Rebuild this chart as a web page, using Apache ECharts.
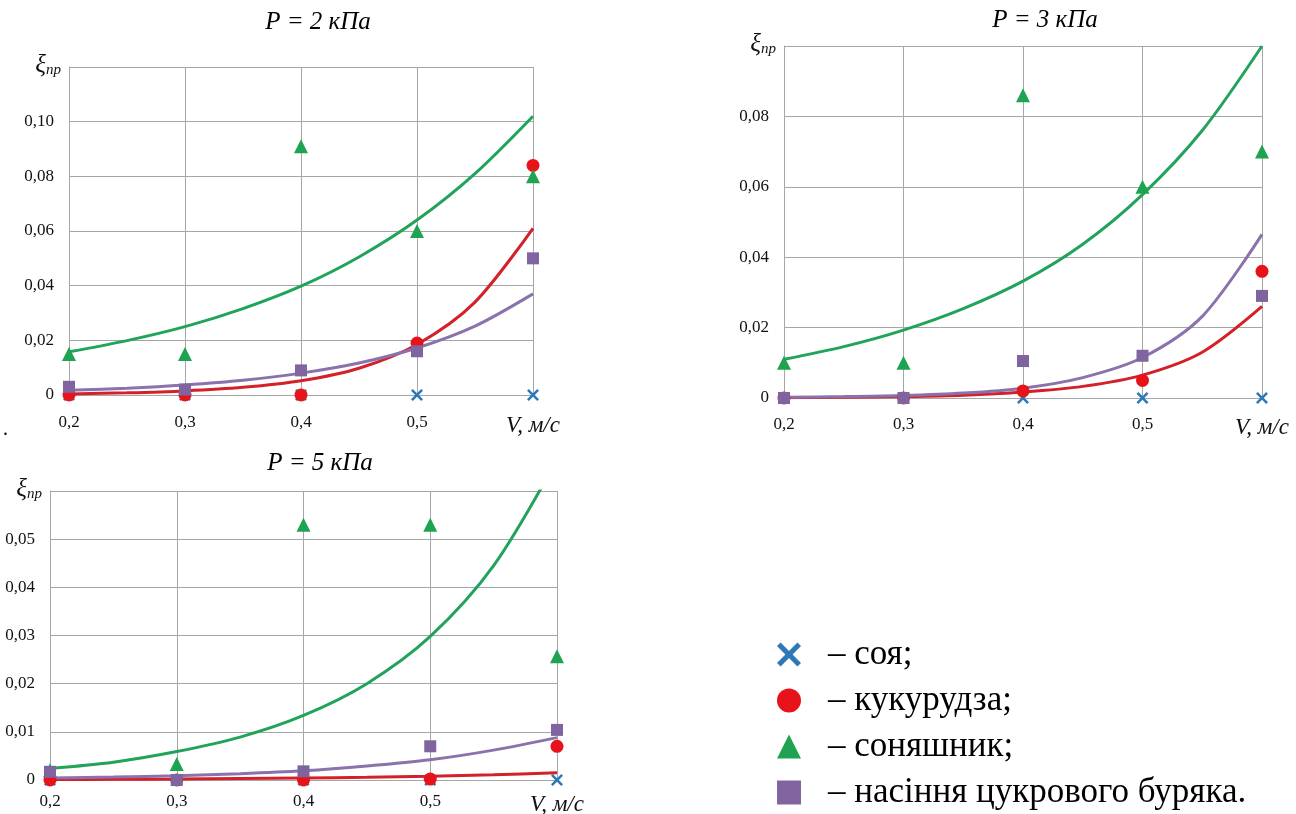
<!DOCTYPE html>
<html>
<head>
<meta charset="utf-8">
<script src="https://cdn.jsdelivr.net/npm/echarts@6/dist/echarts.min.js"></script>
<style>
html,body{margin:0;padding:0;background:#fff;}
#chart{width:1296px;height:814px;}
</style>
</head>
<body>
<div id="chart"></div>
<script>
// ---- data ----
const speeds = [0.2, 0.3, 0.4, 0.5, 0.6];
const trendX = [0.2, 0.25, 0.3, 0.35, 0.4, 0.45, 0.5, 0.55, 0.6];
const crops = ['соя', 'кукурудза', 'соняшник', 'насіння цукрового буряка'];
const legendEnds = [';', ';', ';', '.'];
const panelTitles = ['P = 2 кПа', 'P = 3 кПа', 'P = 5 кПа'];
const xAxisTitle = 'V, м/с';
const yAxisTitle = 'ξ';
const yAxisSub = 'пр';

// P = 2 kPa
const p2_soya = [0, 0, 0, 0, 0];
const p2_corn = [0, 0, 0, 0.019, 0.084];
const p2_sun = [0.015, 0.015, 0.091, 0.060, 0.080];
const p2_beet = [0.003, 0.002, 0.009, 0.016, 0.050];
const p2_cornTrend = [0.0004, 0.0008, 0.0015, 0.0028, 0.0052, 0.0098, 0.0185, 0.034, 0.061];
const p2_sunTrend = [0.0158, 0.0199, 0.025, 0.0316, 0.0398, 0.0505, 0.064, 0.081, 0.102];
const p2_beetTrend = [0.0017, 0.0025, 0.0037, 0.0054, 0.008, 0.0117, 0.0172, 0.0252, 0.037];

// P = 3 kPa
const p3_soya = [0, 0, 0, 0, 0];
const p3_corn = [0, 0, 0.002, 0.005, 0.036];
const p3_sun = [0.010, 0.010, 0.086, 0.060, 0.070];
const p3_beet = [0, 0, 0.0105, 0.012, 0.029];
const p3_cornTrend = [0.0001, 0.0002, 0.0004, 0.0008, 0.0017, 0.0033, 0.0065, 0.013, 0.026];
const p3_sunTrend = [0.011, 0.0146, 0.0193, 0.0254, 0.0332, 0.0437, 0.0578, 0.076, 0.100];
const p3_beetTrend = [0.0002, 0.0004, 0.0007, 0.0014, 0.0028, 0.0058, 0.0115, 0.0232, 0.0465];

// P = 5 kPa
const p5_soya = [0, 0, 0, 0, 0];
const p5_corn = [0, 0, 0, 0.0002, 0.007];
const p5_sun = [0.002, 0.0033, 0.053, 0.053, 0.0257];
const p5_beet = [0.0017, 0, 0.0018, 0.007, 0.0104];
const p5_cornTrend = [0.0001, 0.00015, 0.0002, 0.0003, 0.0004, 0.00055, 0.0008, 0.0011, 0.0015];
const p5_sunTrend = [0.0024, 0.0037, 0.0059, 0.0089, 0.0134, 0.020, 0.0298, 0.0445, 0.0665];
const p5_beetTrend = [0.0004, 0.0006, 0.0009, 0.0013, 0.0019, 0.0029, 0.0042, 0.0062, 0.0088];

const yMaxes = [0.12, 0.10, 0.06];
const yIntervals = [0.02, 0.02, 0.01];

// ---- styles / layout ----
const FONT = 'Liberation Serif';
const markerColors = ['#2e78b8', '#e8121a', '#1ea352', '#7f64a0'];
const lineColors = [null, '#d42028', '#22a35a', '#8a72ad'];
const symbols = [
  'path://M0,3 L3,0 L10,7 L17,0 L20,3 L13,10 L20,17 L17,20 L10,13 L3,20 L0,17 L7,10 Z',
  'circle', 'triangle', 'rect'
];
const symbolSizes = [12, 13, 14, 12];
const grids = [
  {left: 69, top: 67, width: 464, height: 328},
  {left: 784, top: 46, width: 478, height: 352},
  {left: 50, top: 491, width: 507, height: 289}
];
const titlePos = [[313, 5], [1040, 3], [315, 446]];
const xLabelMargins = [19, 18, 13];

const panels = [
  {pts: [p2_soya, p2_corn, p2_sun, p2_beet], trends: [null, p2_cornTrend, p2_sunTrend, p2_beetTrend]},
  {pts: [p3_soya, p3_corn, p3_sun, p3_beet], trends: [null, p3_cornTrend, p3_sunTrend, p3_beetTrend]},
  {pts: [p5_soya, p5_corn, p5_sun, p5_beet], trends: [null, p5_cornTrend, p5_sunTrend, p5_beetTrend]}
];

const gridColor = '#a6a6a6';
const xAxes = [], yAxes = [], series = [], titles = [];

panels.forEach((p, i) => {
  titles.push({
    text: panelTitles[i], left: titlePos[i][0], top: titlePos[i][1], textAlign: 'center',
    textStyle: {fontFamily: FONT, fontStyle: 'italic', fontWeight: 'normal', fontSize: 25, color: '#000'}
  });
  xAxes.push({
    type: 'value', gridIndex: i, min: 0.2, max: 0.6, interval: 0.1,
    axisLine: {show: true, onZero: false, lineStyle: {color: gridColor, width: 1}},
    axisTick: {show: false},
    splitLine: {show: true, lineStyle: {color: gridColor, width: 1}},
    axisLabel: {
      margin: xLabelMargins[i], fontFamily: FONT, fontSize: 17, color: '#111',
      formatter: v => Math.abs(v - 0.6) < 1e-9 ? '{v|' + xAxisTitle + '}' : v.toFixed(1).replace('.', ','),
      rich: {v: {fontFamily: FONT, fontSize: 23, fontStyle: 'italic', color: '#111'}}
    }
  });
  yAxes.push({
    type: 'value', gridIndex: i, min: 0, max: yMaxes[i], interval: yIntervals[i],
    axisLine: {show: true, lineStyle: {color: gridColor, width: 1}},
    axisTick: {show: false},
    splitLine: {show: true, lineStyle: {color: gridColor, width: 1}},
    axisLabel: {
      margin: 15, fontFamily: FONT, fontSize: 17, color: '#111', showMaxLabel: false,
      formatter: v => v === 0 ? '0' : v.toFixed(2).replace('.', ',')
    },
    name: '{a|' + yAxisTitle + '}{b|' + yAxisSub + '}',
    nameLocation: 'end', nameGap: 2,
    nameTextStyle: {
      align: 'right', verticalAlign: 'middle', padding: [0, 8, 0, 0],
      rich: {
        a: {fontFamily: FONT, fontStyle: 'italic', fontSize: 25, color: '#111'},
        b: {fontFamily: FONT, fontStyle: 'italic', fontSize: 15, color: '#111', verticalAlign: 'bottom', padding: [6, 0, 0, 0]}
      }
    }
  });
  // trend lines
  p.trends.forEach((t, k) => {
    if (!t) return;
    series.push({
      type: 'line', name: 'тренд ' + crops[k], xAxisIndex: i, yAxisIndex: i,
      data: trendX.map((x, j) => [x, t[j]]),
      smooth: 0.3, showSymbol: false, clip: true, z: 2,
      lineStyle: {color: lineColors[k], width: 3}, itemStyle: {color: lineColors[k]},
      silent: true
    });
  });
  // points
  p.pts.forEach((d, k) => {
    series.push({
      type: 'scatter', name: crops[k], xAxisIndex: i, yAxisIndex: i,
      data: speeds.map((x, j) => [x, d[j]]),
      symbol: symbols[k], symbolSize: symbolSizes[k], clip: false, z: 3 + k,
      itemStyle: {color: markerColors[k], opacity: 1}
    });
  });
});

const chart = echarts.init(document.getElementById('chart'), null, {renderer: 'canvas'});
chart.setOption({
  animation: false,
  backgroundColor: '#fff',
  title: titles,
  grid: grids.map(g => Object.assign({containLabel: false, outerBoundsMode: 'none'}, g)),
  xAxis: xAxes,
  yAxis: yAxes,
  series: series,
  legend: {
    data: crops.map((c, k) => ({name: c, icon: symbols[k], itemStyle: {color: markerColors[k]}})),
    orient: 'vertical', left: 772, top: 632, width: 520, height: 260,
    itemGap: 11, itemWidth: 24, itemHeight: 24,
    selectedMode: false,
    formatter: name => '– ' + name + legendEnds[crops.indexOf(name)],
    textStyle: {fontFamily: FONT, fontSize: 35, lineHeight: 32, color: '#000', padding: [0, 0, 0, 22]}
  },
  graphic: [{type: 'text', left: 3, top: 420, style: {text: '.', font: '20px ' + FONT, fill: '#000'}}]
});
</script>
</body>
</html>
